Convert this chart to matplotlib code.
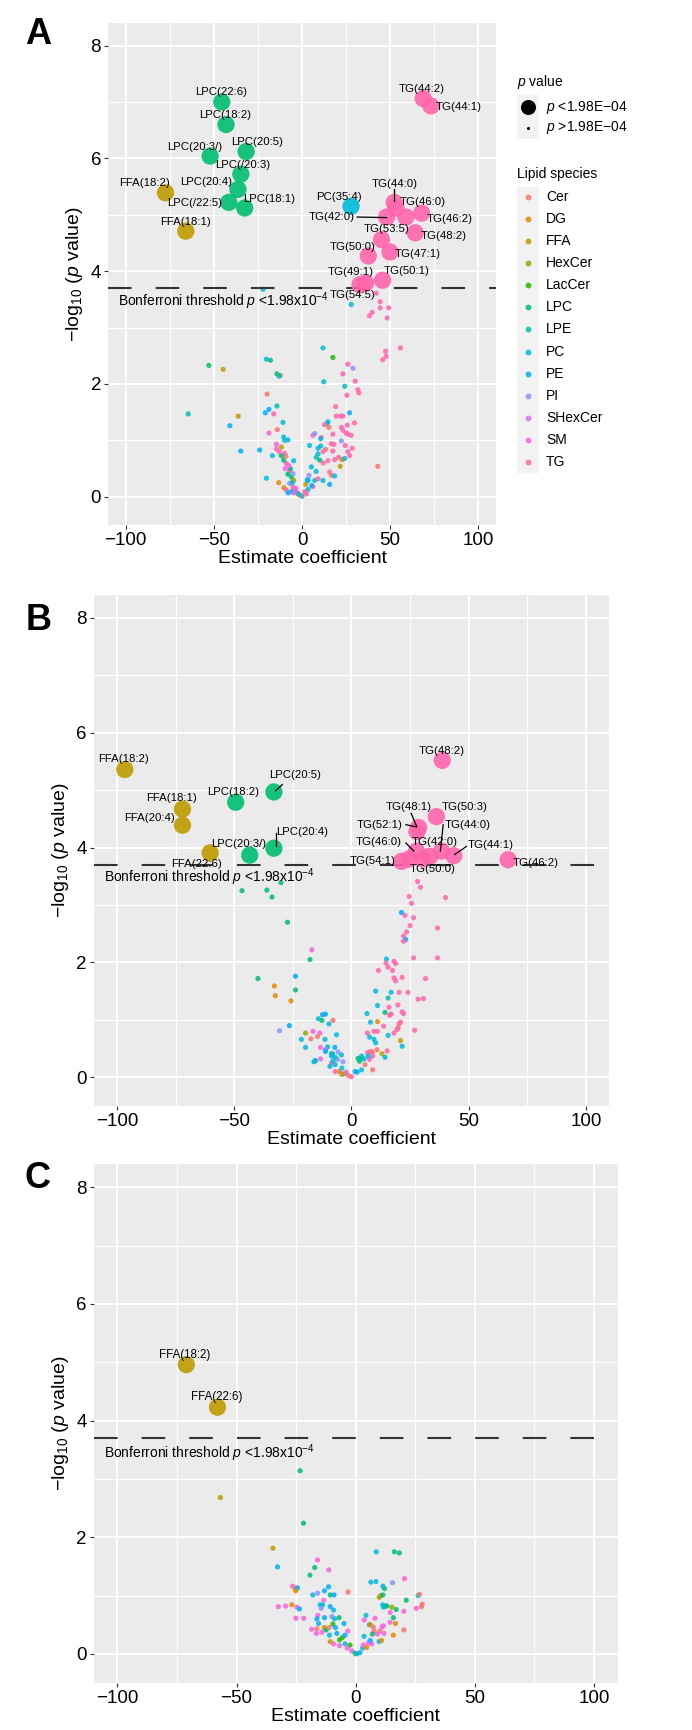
import numpy as np
import matplotlib
matplotlib.use("Agg")
import matplotlib.pyplot as plt
from matplotlib.patches import Rectangle

plt.rcParams['font.family'] = ['Liberation Sans', 'DejaVu Sans']
plt.rcParams['mathtext.fontset'] = 'custom'
plt.rcParams['mathtext.rm'] = 'Liberation Sans'
plt.rcParams['mathtext.it'] = 'Liberation Sans:italic'
plt.rcParams['mathtext.bf'] = 'Liberation Sans:bold'
plt.rcParams['mathtext.default'] = 'regular'
plt.rcParams['lines.scale_dashes'] = False

species = ['Cer', 'DG', 'FFA', 'HexCer', 'LacCer', 'LPC', 'LPE', 'PC', 'PE',
           'PI', 'SHexCer', 'SM', 'TG']
species_colors = ['#F8766D', '#E18A00', '#BE9C00', '#8CAB00', '#24B700', '#00BE70',
                  '#00C1AB', '#00BBDA', '#00ACFC', '#8B93FF', '#D575FE', '#F962DD',
                  '#FF65AC']
bonferroni_p = 1.98e-4

# ---- panel A : (species, name, estimate, -log10 p) ----
a_sig = [('LPC', 'LPC(22:6)', -45.5, 7.0), ('LPC', 'LPC(18:2)', -43.1, 6.6),
         ('LPC', 'LPC(20:3/)', -52.1, 6.04), ('LPC', 'LPC(20:5)', -31.7, 6.12),
         ('LPC', 'LPC(/20:3)', -34.7, 5.72), ('LPC', 'LPC(20:4)', -36.3, 5.45),
         ('LPC', 'LPC(/22:5)', -41.5, 5.22), ('LPC', 'LPC(18:1)', -32.5, 5.12),
         ('FFA', 'FFA(18:2)', -77.4, 5.39), ('FFA', 'FFA(18:1)', -65.9, 4.71),
         ('PC', 'PC(35:4)', 27.8, 5.15),
         ('TG', 'TG(44:2)', 68.7, 7.06), ('TG', 'TG(44:1)', 73.1, 6.93),
         ('TG', 'TG(44:0)', 52.3, 5.22), ('TG', '', 53.3, 5.12),
         ('TG', 'TG(42:0)', 48.0, 4.96), ('TG', 'TG(46:0)', 58.9, 4.96),
         ('TG', 'TG(46:2)', 67.8, 5.03), ('TG', 'TG(48:2)', 64.2, 4.68),
         ('TG', 'TG(53:5)', 45.1, 4.56), ('TG', 'TG(47:1)', 49.9, 4.34),
         ('TG', 'TG(50:0)', 37.6, 4.27), ('TG', 'TG(50:1)', 45.7, 3.84),
         ('TG', 'TG(49:1)', 36.1, 3.79), ('TG', 'TG(54:5)', 32.9, 3.76)]

a_ns = [('PC', -22.1, 3.68), ('PC', 27.9, 3.41), ('TG', 42.1, 3.61), ('TG', 44.3, 3.46),
        ('TG', 44.3, 3.35), ('TG', 39.8, 3.27), ('TG', 38.3, 3.21), ('TG', 49.2, 3.35),
        ('TG', 48.3, 3.17), ('TG', 55.8, 2.64), ('TG', 47.4, 2.58), ('TG', 47.7, 2.49),
        ('TG', 45.8, 2.43), ('PC', 11.9, 2.64), ('LacCer', 17.5, 2.47), ('TG', 26.0, 2.35),
        ('PI', 28.9, 2.28), ('TG', 23.2, 2.18), ('TG', 30.2, 2.05), ('PC', 12.3, 2.04),
        ('LPE', 24.2, 1.96), ('TG', 31.7, 1.90), ('TG', 32.3, 1.84), ('TG', 25.5, 1.80),
        ('TG', 19.1, 1.60), ('PE', 27.0, 1.49), ('TG', 19.4, 1.43), ('TG', 21.9, 1.43),
        ('TG', 23.2, 1.43), ('TG', 29.8, 1.31), ('PC', 14.2, 1.30), ('PC', 14.7, 1.33),
        ('TG', 12.8, 1.28), ('TG', 25.7, 1.27), ('TG', 22.3, 1.23), ('Cer', 15.3, 1.23),
        ('TG', 23.2, 1.18), ('TG', 25.1, 1.13), ('TG', 26.0, 1.11), ('TG', 27.9, 1.09),
        ('TG', 17.5, 1.11), ('TG', 10.9, 1.05), ('PC', 10.6, 1.03), ('TG', 6.2, 1.09),
        ('PI', 7.2, 1.12), ('PI', 22.3, 0.99), ('TG', 18.1, 0.93), ('TG', 16.6, 0.94),
        ('TG', 24.5, 0.91), ('PC', 10.6, 0.90), ('PC', 4.3, 0.91), ('PC', 9.1, 0.86),
        ('TG', 28.5, 0.86), ('TG', 17.5, 0.81), ('Cer', 13.4, 0.84), ('TG', 11.9, 0.80),
        ('TG', 26.0, 0.80), ('TG', 27.0, 0.73), ('TG', 20.8, 0.70), ('DG', 22.8, 0.66),
        ('TG', 18.5, 0.66), ('PC', 24.2, 0.68), ('TG', 14.7, 0.64), ('LPC', 10.0, 0.65),
        ('PC', 9.1, 0.76), ('LPE', 8.1, 0.70), ('Cer', 43.0, 0.54), ('FFA', 21.7, 0.54),
        ('PC', 5.3, 0.53), ('TG', 15.7, 0.44), ('Cer', 16.6, 0.38), ('PC', 18.5, 0.37),
        ('PE', 15.7, 0.22), ('PC', 11.9, 0.29), ('PC', 7.2, 0.29), ('PI', 4.0, 0.38),
        ('TG', 9.1, 0.32), ('TG', 6.2, 0.18), ('FFA', 2.1, 0.22), ('PC', 3.4, 0.13),
        ('TG', 1.5, 0.09), ('PE', 0.0, 0.01), ('DG', -1.3, 0.03), ('TG', -2.8, 0.07),
        ('PC', -4.2, 0.12), ('TG', -5.1, 0.17), ('PI', -7.0, 0.24), ('FFA', -4.7, 0.29),
        ('LPC', -6.0, 0.35), ('PI', -5.1, 0.41), ('TG', -7.0, 0.46), ('LPC', -6.6, 0.50),
        ('PC', -4.7, 0.64), ('TG', -8.9, 0.59), ('SM', -7.4, 0.55), ('LPC', -10.4, 0.65),
        ('Cer', -9.2, 0.72), ('TG', -9.8, 0.77), ('LPC', -11.7, 0.73), ('FFA', -11.7, 0.88),
        ('SM', -14.5, 0.85), ('SM', -14.5, 0.93), ('PC', -9.8, 1.00), ('PC', -7.9, 1.01),
        ('PC', -10.4, 1.06), ('Cer', -14.0, 1.19), ('PC', -10.8, 1.32), ('SM', -18.7, 1.13),
        ('PC', -16.8, 0.73), ('TG', -13.0, 0.80), ('PE', -24.0, 0.83), ('PE', -34.7, 0.81),
        ('PC', -20.2, 0.33), ('DG', -13.2, 0.25), ('DG', -10.2, 0.16), ('TG', -8.9, 0.12),
        ('PC', -6.0, 0.09), ('PE', -7.9, 0.07), ('SM', -4.7, 0.07), ('LPE', -14.2, 1.61),
        ('PE', -18.7, 1.55), ('PE', -20.8, 1.49), ('TG', -16.0, 1.47), ('Cer', -19.8, 1.82),
        ('LPC', -14.2, 2.18), ('FFA', -12.3, 2.15), ('PC', -13.0, 2.14), ('LPC', -17.9, 2.42),
        ('PC', -20.2, 2.44), ('FFA', -44.7, 2.26), ('LPC', -52.8, 2.33), ('LPE', -64.5, 1.47),
        ('FFA', -36.2, 1.43), ('PE', -40.9, 1.26), ('PC', 3.4, 0.29), ('PC', -2.0, 0.05),
        ('TG', 2.5, 0.05), ('SM', -3.5, 0.15), ('PE', 5.5, 0.20), ('LPC', -8.0, 0.40),
        ('PC', 8.0, 0.45), ('TG', 12.0, 0.60), ('SM', -9.5, 0.50), ('PC', -5.5, 0.25),
        ('PE', 3.0, 0.30)]

a_label_xy = {'LPC(22:6)': (-46.0, 7.17), 'LPC(18:2)': (-43.4, 6.77),
              'LPC(20:3/)': (-61.0, 6.21), 'LPC(20:5)': (-25.3, 6.29),
              'LPC(/20:3)': (-33.4, 5.89), 'LPC(20:4)': (-54.5, 5.58),
              'LPC(/22:5)': (-61.0, 5.21), 'LPC(18:1)': (-18.5, 5.28),
              'FFA(18:2)': (-89.1, 5.56), 'FFA(18:1)': (-66.3, 4.88),
              'PC(35:4)': (21.0, 5.32), 'TG(44:2)': (67.6, 7.23), 'TG(44:1)': (89.0, 6.91),
              'TG(44:0)': (52.3, 5.55), 'TG(46:0)': (68.3, 5.23), 'TG(42:0)': (16.8, 4.96),
              'TG(46:2)': (83.8, 4.93), 'TG(53:5)': (48.0, 4.74), 'TG(48:2)': (80.4, 4.62),
              'TG(50:0)': (28.7, 4.43), 'TG(47:1)': (65.7, 4.31), 'TG(49:1)': (27.8, 3.99),
              'TG(50:1)': (59.1, 4.01), 'TG(54:5)': (28.5, 3.58)}
a_leaders = [((52.3, 5.46), (52.3, 5.24)), ((31.3, 4.96), (48.0, 4.95))]

# ---- panel B ----
b_sig = [('FFA', 'FFA(18:2)', -96.7, 5.36), ('FFA', 'FFA(18:1)', -72.1, 4.67),
         ('FFA', 'FFA(20:4)', -72.1, 4.39), ('FFA', 'FFA(22:6)', -60.3, 3.91),
         ('LPC', 'LPC(18:2)', -49.4, 4.79), ('LPC', 'LPC(20:5)', -33.1, 4.97),
         ('LPC', 'LPC(20:4)', -33.1, 3.99), ('LPC', 'LPC(20:3/)', -43.4, 3.87),
         ('TG', 'TG(48:2)', 38.7, 5.52), ('TG', 'TG(50:3)', 36.2, 4.54),
         ('TG', 'TG(48:1)', 28.6, 4.35), ('TG', 'TG(52:1)', 27.9, 4.28),
         ('TG', 'TG(46:0)', 27.7, 3.94), ('TG', 'TG(54:1)', 21.3, 3.76),
         ('TG', 'TG(50:0)', 30.5, 3.80), ('TG', 'TG(42:0)', 33.4, 3.85),
         ('TG', 'TG(44:0)', 38.4, 3.94), ('TG', 'TG(44:1)', 43.6, 3.86),
         ('TG', 'TG(46:2)', 66.8, 3.79), ('TG', '', 24.5, 3.80)]

b_ns = [('LPC', -30.1, 3.39), ('LPC', -46.7, 3.25), ('LPC', -36.1, 3.26), ('LPC', -33.9, 3.14),
        ('LPC', -27.3, 2.70), ('SM', -16.9, 2.22), ('LPC', -17.7, 2.05), ('LPC', -39.9, 1.72),
        ('PE', -23.9, 1.76), ('DG', -32.9, 1.59), ('DG', -32.5, 1.42), ('LPC', -23.9, 1.52),
        ('DG', -25.8, 1.33), ('PE', -26.5, 0.90), ('PI', -30.7, 0.81),
        ('TG', 28.2, 3.41), ('TG', 29.4, 3.31), ('TG', 40.1, 3.13), ('TG', 24.6, 3.15),
        ('TG', 25.6, 3.03), ('TG', 26.5, 2.78), ('PE', 21.3, 2.87), ('TG', 22.8, 2.82),
        ('TG', 25.0, 2.64), ('TG', 36.7, 2.60), ('TG', 23.5, 2.53), ('TG', 22.2, 2.46),
        ('PE', 23.1, 2.40), ('TG', 22.2, 2.37), ('TG', 26.5, 2.08), ('TG', 36.7, 2.08),
        ('PC', 14.9, 2.06), ('TG', 18.1, 2.02), ('TG', 18.8, 1.98), ('TG', 14.7, 1.99),
        ('TG', 15.6, 1.92), ('TG', 11.5, 1.86), ('TG', 17.5, 1.86), ('TG', 18.1, 1.73),
        ('TG', 21.6, 1.74), ('TG', 31.6, 1.72), ('TG', 18.8, 1.68), ('PC', 10.3, 1.50),
        ('PC', 16.9, 1.48), ('TG', 24.1, 1.48), ('TG', 20.3, 1.48), ('LPE', 15.6, 1.38),
        ('TG', 28.4, 1.36), ('TG', 30.7, 1.37), ('PC', 11.1, 1.25), ('TG', 16.0, 1.22),
        ('TG', 19.8, 1.26), ('TG', 21.6, 1.14), ('TG', 22.2, 1.11), ('LPC', 14.3, 1.13),
        ('TG', 16.9, 1.10), ('TG', 16.2, 1.08), ('PC', 6.6, 1.11), ('DG', 11.1, 0.97),
        ('PC', 8.1, 0.96), ('TG', 20.9, 0.96), ('TG', 20.3, 0.93), ('TG', 13.7, 0.89),
        ('Cer', 19.9, 0.86), ('TG', 19.4, 0.83), ('TG', 26.9, 0.82), ('TG', 18.1, 0.77),
        ('PC', 15.6, 0.73), ('TG', 6.8, 0.77), ('TG', 9.6, 0.80), ('TG', 11.1, 0.80),
        ('PC', 7.7, 0.70), ('PC', 9.6, 0.66), ('PC', 10.3, 0.60), ('FFA', 20.9, 0.64),
        ('PC', 21.6, 0.54), ('TG', 15.2, 0.46), ('Cer', 10.9, 0.48), ('FFA', 13.0, 0.41),
        ('PC', 14.3, 0.35), ('TG', 6.8, 0.43), ('TG', 9.0, 0.37), ('PC', 4.3, 0.37),
        ('PC', 5.3, 0.32), ('Cer', 9.0, 0.13), ('TG', 7.7, 0.31), ('PC', 1.5, 0.10),
        ('TG', 0.0, 0.01), ('Cer', -1.3, 0.03), ('PC', -3.2, 0.06), ('DG', -5.1, 0.10),
        ('PC', -4.1, 0.16), ('PC', -7.0, 0.22), ('PI', -6.0, 0.31), ('LPE', -7.0, 0.35),
        ('PC', -8.5, 0.41), ('PC', -10.2, 0.53), ('PI', -11.1, 0.48), ('Cer', -7.9, 0.99),
        ('LPC', -12.6, 0.99), ('PC', -14.1, 1.02), ('PE', -12.4, 1.09), ('PE', -11.1, 1.10),
        ('PC', -9.6, 0.93), ('PC', -6.4, 0.74), ('SM', -13.5, 0.77), ('SM', -16.4, 0.80),
        ('HexCer', -19.6, 0.77), ('Cer', -14.5, 0.71), ('Cer', -17.3, 0.67), ('PC', -21.4, 0.66),
        ('PC', -11.3, 0.66), ('PC', -19.6, 0.52), ('SM', -13.2, 0.52), ('PE', -11.1, 0.45),
        ('LPE', -15.4, 0.29), ('PC', -16.0, 0.27), ('SM', -13.2, 0.32), ('TG', -8.5, 0.25),
        ('PC', -9.2, 0.19), ('DG', -4.1, 0.05), ('TG', -2.3, 0.09), ('PC', -7.9, 0.28),
        ('TG', -7.0, 0.10), ('LPC', 3.4, 0.28), ('LPE', 4.0, 0.32), ('PC', 4.3, 0.13),
        ('PE', 2.4, 0.09), ('TG', 8.1, 0.45), ('Cer', 5.8, 0.22), ('PE', -8.5, 0.37),
        ('PE', -7.1, 0.52), ('PI', -5.7, 0.44), ('PC', -4.3, 0.39), ('PI', -3.6, 0.27),
        ('PC', -15.5, 0.29), ('PC', -8.1, 0.41), ('LPC', 2.8, 0.33), ('PC', 7.1, 0.37),
        ('Cer', 8.9, 0.44)]

b_label_xy = {'FFA(18:2)': (-97.3, 5.55), 'LPC(20:5)': (-23.9, 5.27),
              'LPC(18:2)': (-50.4, 4.97), 'FFA(18:1)': (-76.8, 4.87),
              'FFA(20:4)': (-86.0, 4.51), 'TG(48:2)': (38.6, 5.69),
              'TG(48:1)': (24.3, 4.71), 'TG(50:3)': (48.2, 4.71),
              'TG(52:1)': (11.9, 4.39), 'TG(44:0)': (49.5, 4.39),
              'LPC(20:4)': (-20.9, 4.27), 'LPC(20:3/)': (-48.0, 4.07),
              'TG(46:0)': (11.5, 4.09), 'TG(42:0)': (35.6, 4.10),
              'TG(44:1)': (59.3, 4.05), 'TG(54:1)': (8.8, 3.77),
              'FFA(22:6)': (-65.9, 3.71), 'TG(50:0)': (34.4, 3.62),
              'TG(46:2)': (78.6, 3.73)}
b_leaders = [((-29.5, 5.10), (-32.4, 4.99)), ((-32.4, 4.26), (-32.4, 4.03)),
             ((25.4, 4.60), (27.8, 4.37)), ((23.2, 4.40), (27.7, 4.36)),
             ((39.1, 4.40), (37.9, 3.94)), ((23.2, 4.08), (26.6, 3.94)),
             ((49.0, 4.02), (44.0, 3.88))]

# ---- panel C ----
c_sig = [('FFA', 'FFA(18:2)', -71.1, 4.96), ('FFA', 'FFA(22:6)', -58.0, 4.23)]

c_ns = [('LPC', -23.3, 3.14), ('FFA', -56.8, 2.68), ('LPC', -21.9, 2.24), ('FFA', -34.7, 1.81),
        ('PE', -32.8, 1.49), ('SM', -16.0, 1.61), ('LPC', -17.2, 1.48), ('SM', -11.3, 1.44),
        ('LPC', -19.2, 1.35), ('SM', -26.5, 1.16), ('Cer', -25.4, 1.13), ('PE', -24.4, 1.13),
        ('DG', -25.2, 1.08), ('PE', -11.4, 1.15), ('PE', -13.1, 1.08), ('PI', -16.0, 1.04),
        ('PC', -18.0, 1.01), ('LPC', -10.7, 1.01), ('PE', -9.1, 1.01), ('Cer', -3.2, 1.06),
        ('SM', -13.4, 0.92), ('DG', -26.8, 0.84), ('SM', -32.5, 0.81), ('SM', -29.4, 0.82),
        ('SM', -24.7, 0.80), ('PE', -23.6, 0.77), ('PC', -14.9, 0.84), ('PC', -13.9, 0.84),
        ('PI', -14.5, 0.78), ('PE', -10.7, 0.81), ('PC', -9.3, 0.75), ('SM', -25.1, 0.61),
        ('SM', -21.8, 0.61), ('SM', -15.9, 0.66), ('PE', -16.3, 0.60), ('PC', -15.6, 0.52),
        ('PI', -10.0, 0.64), ('PC', -8.9, 0.60), ('LPC', -7.0, 0.62), ('LacCer', -9.6, 0.51),
        ('SM', -18.5, 0.42), ('Cer', -16.3, 0.43), ('DG', -13.2, 0.45), ('LPC', -12.4, 0.41),
        ('Cer', -11.2, 0.45), ('PE', -8.5, 0.45), ('PE', -4.9, 0.52), ('SM', -3.3, 0.39),
        ('SM', -16.5, 0.35), ('SM', -14.2, 0.37), ('PC', -11.0, 0.32), ('PE', -7.9, 0.35),
        ('LacCer', -5.6, 0.28), ('PE', -4.5, 0.32), ('FFA', -10.7, 0.21), ('SM', -9.3, 0.17),
        ('SM', -6.8, 0.14), ('PC', -4.5, 0.17), ('LacCer', -2.4, 0.15), ('SM', -3.5, 0.10),
        ('SM', -1.7, 0.05), ('LPC', -0.3, 0.01), ('LPE', 0.4, 0.00), ('PE', 1.8, 0.02),
        ('PC', 2.9, 0.10), ('SM', 3.2, 0.15), ('DG', 4.6, 0.11), ('SM', 5.3, 0.19),
        ('SM', 6.7, 0.17), ('PC', 3.5, 0.30), ('PE', 6.1, 0.23), ('Cer', 7.7, 0.39),
        ('Cer', 10.2, 0.39), ('SM', 9.1, 0.34), ('LPC', 7.0, 0.34), ('PC', 5.7, 0.50),
        ('PC', 4.3, 0.66), ('SM', 8.1, 0.61), ('SM', 3.6, 0.58), ('FFA', 6.1, 0.50),
        ('Cer', 7.4, 0.46), ('SM', 11.0, 0.46), ('SM', 11.6, 0.48), ('SM', 11.9, 0.35),
        ('SM', 14.4, 0.54), ('DG', 16.7, 0.52), ('DG', 15.8, 0.32), ('PC', 9.8, 0.21),
        ('DG', 10.9, 0.23), ('Cer', 20.2, 0.41), ('LPC', 15.8, 0.62), ('LPC', 17.0, 0.76),
        ('SM', 14.5, 0.71), ('PC', 11.7, 0.80), ('PE', 12.6, 0.82), ('PC', 11.3, 0.84),
        ('LPC', 13.1, 0.82), ('HexCer', 15.2, 0.80), ('SM', 20.2, 0.73), ('LPC', 21.2, 0.92),
        ('SM', 25.4, 0.78), ('PC', 26.2, 1.00), ('Cer', 27.9, 0.85), ('Cer', 27.6, 0.81),
        ('HexCer', 9.9, 0.97), ('FFA', 10.5, 1.00), ('LPC', 11.4, 1.01), ('LPC', 12.1, 1.12),
        ('PC', 11.4, 1.16), ('PC', 6.4, 1.23), ('PC', 8.5, 1.24), ('PI', 15.5, 1.22),
        ('SM', 20.5, 1.29), ('PC', 8.6, 1.75), ('LPC', 16.2, 1.75), ('LPC', 18.3, 1.73),
        ('Cer', 26.8, 1.02), ('LacCer', -6.8, 0.24), ('PE', -13.1, 0.62)]

c_label_xy = {'FFA(18:2)': (-71.9, 5.13), 'FFA(22:6)': (-58.5, 4.40)}
c_leaders = []

W, H = 692, 1730
col = dict(zip(species, species_colors))
fig = plt.figure(figsize=(W / 100, H / 100), dpi=100)


def make_axes(x0, x1, y0, y1):
    return fig.add_axes([x0 / W, 1 - y1 / H, (x1 - x0) / W, (y1 - y0) / H])


def draw_panel(ax, sig, ns, label_xy, leaders, note_xy, fs, ylabpad):
    ax.set_facecolor('#EBEBEB')
    for s in ax.spines.values():
        s.set_visible(False)
    ax.set_xlim(-110, 110)
    ax.set_ylim(-0.5, 8.4)
    ax.set_xticks([-100, -50, 0, 50, 100])
    ax.set_xticks([-75, -25, 25, 75], minor=True)
    ax.set_yticks([0, 2, 4, 6, 8])
    ax.set_yticks([1, 3, 5, 7], minor=True)
    ax.grid(which='major', color='white', lw=1.5)
    ax.grid(which='minor', color='white', lw=0.8)
    ax.set_axisbelow(True)
    ax.tick_params(which='major', length=3, width=0.8, color='#333333',
                   labelsize=13.5, pad=2, labelcolor='black')
    ax.tick_params(which='minor', length=0)

    ax.scatter([p[1] for p in ns], [p[2] for p in ns], s=14,
               c=[col[p[0]] for p in ns], alpha=0.85, lw=0, zorder=2)
    thr = -np.log10(bonferroni_p)
    ax.axhline(thr, color='#333333', lw=1.5, dashes=(17, 17.3), zorder=2.5)
    ax.scatter([p[2] for p in sig], [p[3] for p in sig], s=155,
               c=[col[p[0]] for p in sig], alpha=0.9, lw=0, zorder=3)

    for (x0, y0), (x1, y1) in leaders:
        ax.plot([x0, x1], [y0, y1], color='black', lw=0.9, zorder=4)
    for name, (lx, ly) in label_xy.items():
        ax.text(lx, ly, name, fontsize=fs, ha='center', va='center', zorder=5)

    ax.text(note_xy[0], note_xy[1],
            'Bonferroni threshold $\\mathit{p}$ <1.98x10$^{-4}$',
            fontsize=10, ha='left', va='center', zorder=5)
    ax.set_xlabel('Estimate coefficient', fontsize=14, labelpad=1)
    ax.set_ylabel('\u2212log$_{10}$ ($\\mathit{p}$ value)', fontsize=14, labelpad=ylabpad)


ax_a = make_axes(108, 496, 23, 525)
draw_panel(ax_a, a_sig, a_ns, a_label_xy, a_leaders, (-104.5, 3.46), 8.2, 4)
ax_b = make_axes(93.6, 609.4, 595, 1106)
draw_panel(ax_b, b_sig, b_ns, b_label_xy, b_leaders, (-105.5, 3.48), 8.2, 4)
ax_c = make_axes(93.6, 617.8, 1164, 1683)
draw_panel(ax_c, c_sig, c_ns, c_label_xy, c_leaders, (-105.6, 3.44), 8.3, 4)

# overlay in pixel units for panel letters and legends
ov = fig.add_axes([0, 0, 1, 1], zorder=10)
ov.set_xlim(0, W)
ov.set_ylim(H, 0)
ov.axis('off')
for letter, (lx, ly) in zip('ABC', [(38.3, 34), (38.6, 621), (37.5, 1178)]):
    ov.text(lx, ly, letter, fontsize=26, fontweight='bold', ha='center', va='center')

ov.text(517, 82, '$\\mathit{p}$ value', fontsize=10, ha='left', va='center')
ov.add_patch(Rectangle((517, 95), 22, 44, color='#F2F2F2', lw=0))
ov.scatter([528], [107], s=117, c='black', lw=0)
ov.scatter([528], [128], s=5, c='black', lw=0)
ov.text(546, 107, '$\\mathit{p}$ <1.98E\u221204', fontsize=10, ha='left', va='center')
ov.text(546, 128, '$\\mathit{p}$ >1.98E\u221204', fontsize=10, ha='left', va='center')

ov.text(517, 174, 'Lipid species', fontsize=10, ha='left', va='center')
ov.add_patch(Rectangle((517, 187), 22, 286, color='#F2F2F2', lw=0))
for i, (sp, c) in enumerate(zip(species, species_colors)):
    yy = 197.3 + 22.03 * i
    ov.scatter([528], [yy], s=18, c=c, alpha=0.85, lw=0)
    ov.text(546, yy, sp, fontsize=10, ha='left', va='center')

fig.savefig('out.png', dpi=100)
